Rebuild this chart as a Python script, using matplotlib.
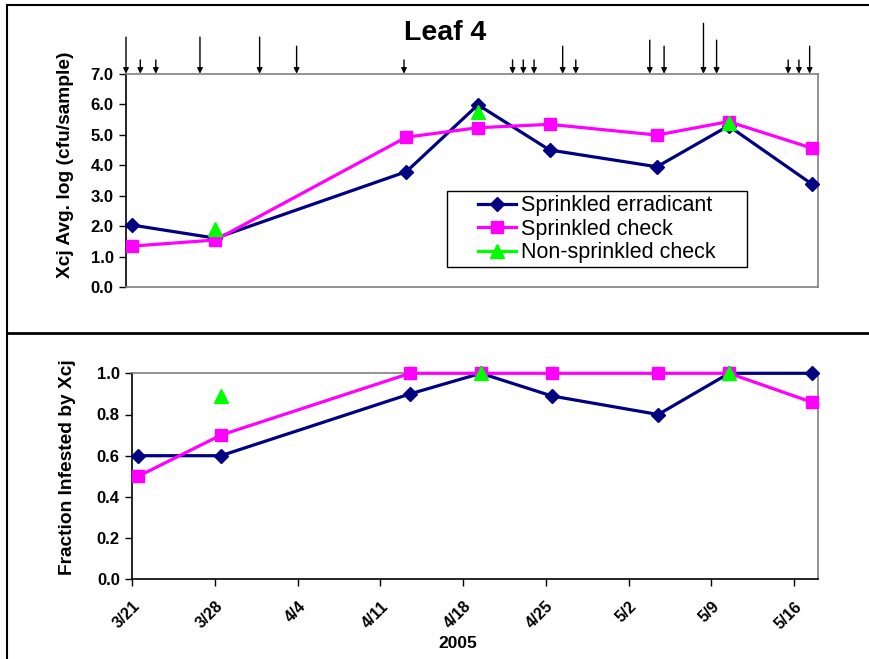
import numpy as np
import matplotlib
matplotlib.use("Agg")
import matplotlib.pyplot as plt
from matplotlib.lines import Line2D
from matplotlib.patches import Rectangle

plt.rcParams['font.family'] = ['Liberation Sans', 'DejaVu Sans']

# sampling dates, in days after 3/21/2005
sample_days = [0.5, 7.5, 23.5, 29.5, 35.5, 44.5, 50.5, 57.5]

# Xcj avg. log (cfu/sample)
erad_log = [2.04, 1.61, 3.79, 5.98, 4.50, 3.95, 5.29, 3.38]
check_log = [1.35, 1.55, 4.92, 5.23, 5.34, 4.99, 5.43, 4.56]
nonspr_log = [np.nan, 1.91, np.nan, 5.76, np.nan, np.nan, 5.38, np.nan]

# fraction of samples infested by Xcj
erad_frac = [0.6, 0.6, 0.9, 1.0, 0.89, 0.8, 1.0, 1.0]
check_frac = [0.5, 0.7, 1.0, 1.0, 1.0, 1.0, 1.0, 0.86]
nonspr_frac = [np.nan, 0.89, np.nan, 1.0, np.nan, np.nan, 1.0, np.nan]

# rain / irrigation events (arrows above the top panel)
arrow_days = [0.0, 1.2, 2.5, 6.2, 11.2, 14.3, 23.3, 32.4, 33.3, 34.2,
              36.6, 37.7, 43.9, 45.1, 48.4, 49.5, 55.5, 56.4, 57.3]
arrow_tops = [8.2, 7.45, 7.45, 8.2, 8.2, 7.9, 7.45, 7.45, 7.45, 7.45,
              7.9, 7.45, 8.1, 7.9, 8.65, 8.1, 7.45, 7.45, 7.9]

tick_days = [0, 7, 14, 21, 28, 35, 42, 49, 56]
tick_labels = ['3/21', '3/28', '4/4', '4/11', '4/18', '4/25', '5/2', '5/9', '5/16']

series = [
    ('Sprinkled erradicant', '#000080', 'D', 7.5),
    ('Sprinkled check', '#ff00ff', 's', 9),
    ('Non-sprinkled check', '#00ff00', '^', 10),
]

fig = plt.figure(figsize=(8.7, 6.59), dpi=100)
ax1 = fig.add_axes([126 / 870, 1 - 287.3 / 659, 692 / 870, 213.6 / 659])
ax2 = fig.add_axes([132.3 / 870, 1 - 579.3 / 659, 685.4 / 870, 206 / 659])


def style_axes(ax):
    for side in ['top', 'right']:
        ax.spines[side].set_color('#808080')
        ax.spines[side].set_linewidth(1.2)
    for side in ['left', 'bottom']:
        ax.spines[side].set_color('black')
        ax.spines[side].set_linewidth(1.2)
    ax.set_xlim(0, 58)
    ax.tick_params(axis='y', direction='out', length=5, width=1,
                   labelsize=12, pad=4)
    ax.tick_params(axis='x', direction='out', length=5, width=1,
                   labelsize=11.5, pad=9)
    for lab in ax.get_yticklabels():
        lab.set_fontweight('bold')


for data, (name, col, mk, ms) in zip([erad_log, check_log, nonspr_log], series):
    ax1.plot(sample_days, data, color=col, marker=mk, markersize=ms, lw=2.3,
             label=name, clip_on=False, zorder=3)
ax1.set_ylim(0, 7)
ax1.set_yticks(np.arange(0, 7.5, 1.0))
ax1.set_yticklabels(['%.1f' % v for v in np.arange(0, 7.5, 1.0)])
ax1.set_xticks([])
style_axes(ax1)
ax1.spines['bottom'].set_color('#808080')

for d, top in zip(arrow_days, arrow_tops):
    ax1.annotate('', xy=(d, 7.0), xytext=(d, top), annotation_clip=False,
                 arrowprops=dict(arrowstyle='-|>', color='black', lw=1,
                                 mutation_scale=8, shrinkA=0, shrinkB=0))

# legend box drawn separately so it can carry wide side margins
ax1.add_patch(Rectangle((321 / 692, 20 / 213.6), 300 / 692, 76.6 / 213.6,
                        transform=ax1.transAxes, facecolor='white',
                        edgecolor='black', lw=1, zorder=4))
leg = ax1.legend(loc='upper left', bbox_to_anchor=(352 / 692, 92 / 213.6),
                 fontsize=15.5, frameon=False, borderpad=0,
                 handlelength=1.75, handletextpad=0.25, labelspacing=0.12,
                 borderaxespad=0)
leg.set_zorder(5)

for data, (name, col, mk, ms) in zip([erad_frac, check_frac, nonspr_frac], series):
    ax2.plot(sample_days, data, color=col, marker=mk, markersize=ms, lw=2.3,
             clip_on=False, zorder=3)
ax2.set_ylim(0, 1.0)
ax2.set_yticks(np.arange(0, 1.01, 0.2))
ax2.set_yticklabels(['%.1f' % v for v in np.arange(0, 1.01, 0.2)])
ax2.set_xticks(tick_days)
ax2.set_xticklabels(tick_labels, rotation=45, ha='right',
                    rotation_mode='anchor', fontweight='bold')
style_axes(ax2)

fig.text(65 / 870, 1 - 165 / 659, 'Xcj Avg. log (cfu/sample)', rotation=90,
         ha='center', va='center', fontsize=13.8, fontweight='bold')
fig.text(67 / 870, 1 - 467 / 659, 'Fraction Infested by Xcj', rotation=90,
         ha='center', va='center', fontsize=13.8, fontweight='bold')
fig.text(445 / 870, 1 - 32.7 / 659, 'Leaf 4', ha='center', va='center',
         fontsize=20.5, fontweight='bold')
fig.text(458 / 870, 1 - 643 / 659, '2005', ha='center', va='center',
         fontsize=12.5, fontweight='bold')

# outer frame around the two panels
fig.add_artist(Line2D([8 / 870, 1], [1 - 5 / 659, 1 - 5 / 659], color='black', lw=1.5))
fig.add_artist(Line2D([7.5 / 870, 7.5 / 870], [0, 1 - 5 / 659], color='black', lw=1.5))
fig.add_artist(Line2D([8 / 870, 1], [1 - 333 / 659, 1 - 333 / 659], color='black', lw=2))

fig.savefig('out.png', dpi=100)
